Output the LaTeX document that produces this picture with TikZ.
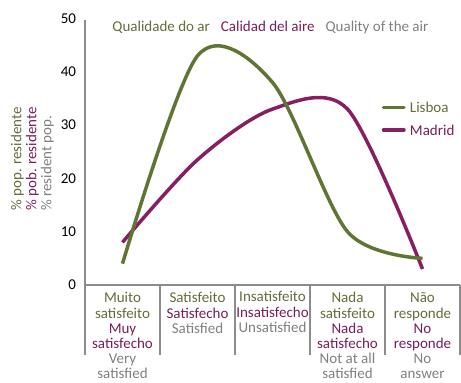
\documentclass[tikz,border=0pt]{standalone}
\usepackage{fontspec}
\setmainfont{Carlito}
\usepackage{tikz}
\usetikzlibrary{positioning}

\newcommand{\txtpt}[1]{\textcolor{lisboatext}{#1}}
\newcommand{\txtes}[1]{\textcolor{madridtext}{#1}}
\newcommand{\txten}[1]{\textcolor{engtext}{#1}}

\begin{document}
\begin{tikzpicture}[x=75pt, y=5.33pt, font=\fontsize{15}{15.1}\selectfont, align=center, line width=2pt]
        % Define colors
        \definecolor{lisboagreen}{RGB}{96,117,52}
        \definecolor{madridpurple}{RGB}{135,30,98}
        \definecolor{lisboatext}{RGB}{100,108,58}
        \definecolor{madridtext}{RGB}{120,30,90}
        \definecolor{engtext}{RGB}{128,128,128}
        \definecolor{axisgray}{RGB}{140,140,140}
        \useasboundingbox (-1.1333,-18.2) rectangle (5.0133,53.47);

        % Axes
        \coordinate (origin) at (0,0);
        \coordinate (ytop) at (0,49.7);
        \coordinate (xend) at (5,0);
        \draw[axisgray] (ytop) -- (origin) -- (xend);
        \foreach \i in {0,...,5} {
            \coordinate (tick\i) at (\i,0);
            \draw[axisgray] (tick\i) -- ++(0,-13.1);
        }
        \foreach \v in {0,10,...,50} {
            \node[anchor=east, inner sep=0, xshift=-8pt] (yval\v) at (0,\v) {\v};
        }

        % Axis title
        \node[rotate=90, anchor=west, inner sep=0, text=lisboatext] (ylabpt) at (-0.9,13.75) {\% pop. residente};
        \node[rotate=90, anchor=west, inner sep=0, text=madridtext] (ylabes) at (-0.7,13.75) {\% pob. residente};
        \node[rotate=90, anchor=west, inner sep=0, text=engtext] (ylaben) at (-0.5,13.75) {\% resident pop.};

        % Categories
        \node[anchor=north, inner sep=0, yshift=-5pt] (cat1) at (0.5,0) {\rule{0pt}{12pt}\txtpt{Muito}\\\txtpt{satisfeito}\\\txtes{Muy}\\\txtes{satisfecho}\\\txten{Very}\\\txten{satisfied}};
        \node[anchor=north, inner sep=0, yshift=-5pt] (cat2) at (1.5,0) {\rule{0pt}{12pt}\txtpt{Satisfeito}\\\txtes{Satisfecho}\\\txten{Satisfied}};
        \node[anchor=north, inner sep=0, yshift=-4pt] (cat3) at (2.5,0) {\rule{0pt}{12pt}\txtpt{Insatisfeito}\\\txtes{Insatisfecho}\\\txten{Unsatisfied}};
        \node[anchor=north, inner sep=0, yshift=-5pt] (cat4) at (3.5,0) {\rule{0pt}{12pt}\txtpt{Nada}\\\txtpt{satisfeito}\\\txtes{Nada}\\\txtes{satisfecho}\\\txten{Not at all}\\\txten{satisfied}};
        \node[anchor=north, inner sep=0, yshift=-5pt] (cat5) at (4.5,0) {\rule{0pt}{12pt}\txtpt{Não}\\\txtpt{responde}\\\txtes{No}\\\txtes{responde}\\\txten{No}\\\txten{answer}};

        % Title
        \node[anchor=base west, inner sep=0, text=lisboatext] (titpt) at (0.353,47.52) {Qualidade do ar};
        \node[base right=9pt of titpt, inner sep=0, text=madridtext] (tites) {Calidad del aire};
        \node[base right=9pt of tites, inner sep=0, text=engtext] (titen) {Quality of the air};

        % Curves
        \draw[madridpurple, line width=3.5pt] plot[smooth, tension=0.5] coordinates {(0.5,8) (1.5,23.5) (2.5,33) (3.5,33) (4.5,3)};
        \draw[lisboagreen, line width=3.5pt] plot[smooth, tension=0.5] coordinates {(0.5,4) (1.5,43) (2.5,38) (3.5,10) (4.5,5)};

        % Legend
        \coordinate (lisA) at (3.98,33.26);
        \coordinate (lisB) at (4.253,33.26);
        \coordinate (madA) at (3.98,29.08);
        \coordinate (madB) at (4.253,29.08);
        \draw[lisboagreen, line width=3.5pt, line cap=round] (lisA) -- (lisB);
        \draw[madridpurple, line width=3.5pt, line cap=round] (madA) -- (madB);
        \node[right=5pt of lisB, inner sep=0, text=lisboatext] (lislab) {Lisboa};
        \node[right=5pt of madB, inner sep=0, text=madridtext] (madlab) {Madrid};
    \end{tikzpicture}
\end{document}
